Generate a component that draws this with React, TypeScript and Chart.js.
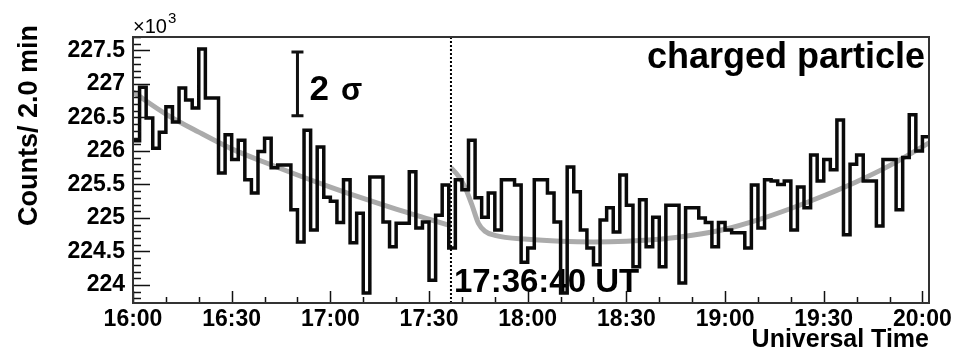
import React, { useEffect, useRef } from "react";
import { Chart, registerables } from "chart.js";

Chart.register(...registerables);

const START_HOUR = 16;
const BIN_MINUTES = 2;

// Charged-particle counts per 2-minute bin (units of 10^3), from 16:00 UT
const COUNTS = [
  226.15, 226.95, 226.49, 226.04, 226.28, 226.66, 226.43, 226.94, 226.76, 226.64,
  227.52, 226.79, 226.79, 225.67, 226.24, 225.87, 226.16, 225.57, 225.37, 225.99,
  226.19, 225.75, 225.79, 225.79, 225.12, 224.64, 226.31, 224.82, 226.06, 225.31,
  225.25, 224.93, 225.57, 224.63, 225.07, 223.88, 225.61, 225.61, 224.94, 224.57,
  224.92, 224.92, 225.69, 224.85, 224.94, 224.07, 225.04, 225.49, 224.55, 225.57,
  225.42, 226.16, 225.3, 225.01, 225.37, 224.82, 225.57, 225.57, 225.49, 224.34,
  224.55, 225.57, 225.57, 225.37, 224.94, 223.88, 225.76, 225.39, 224.82, 224.55,
  224.3, 224.97, 225.15, 224.79, 225.64, 225.19, 224.27, 225.27, 224.57, 225.01,
  224.27, 225.19, 225.19, 224.03, 225.15, 225.15, 225.0, 224.93, 224.57, 224.93,
  224.82, 224.78, 224.78, 224.55, 225.49, 224.85, 225.57, 225.55, 225.5, 225.55,
  224.82, 225.46, 225.15, 225.94, 225.55, 225.87, 225.72, 226.46, 224.75, 225.8,
  225.94, 225.55, 225.55, 224.88, 225.87, 225.87, 225.12, 225.9, 226.54, 226.0,
  226.21,
];

// Smooth trend before the event (minutes after 16:00, counts ×10^3)
const TREND_PRE_MINUTES = [0, 10, 20, 30, 40, 50, 60, 70, 80, 90, 96.67];
const TREND_PRE_COUNTS = [226.88, 226.55, 226.28, 226.03, 225.83, 225.64, 225.46, 225.29, 225.13, 224.98, 224.88];

// Smooth trend after the event
const TREND_POST_MINUTES = [96.67, 99, 101, 103, 105, 107, 110, 120, 130, 140, 150, 160, 170, 180, 190, 200, 210, 220, 230, 242];
const TREND_POST_COUNTS = [225.75, 225.62, 225.45, 225.2, 224.92, 224.8, 224.74, 224.68, 224.65, 224.64, 224.65, 224.68, 224.74, 224.83, 224.97, 225.14, 225.33, 225.54, 225.78, 226.12];

const EVENT_MINUTES = 96 + 40 / 60; // 17:36:40 UT
const EVENT_LABEL = "17:36:40 UT";
const PANEL_LABEL = "charged particle";

// reference bar of ±1 sigma around a typical count level
const SIGMA_REF_MINUTES = 50;
const SIGMA_REF_LEVEL = 227.0;

const Y_TICKS = [224, 224.5, 225, 225.5, 226, 226.5, 227, 227.5];
const X_TICKS = [0, 30, 60, 90, 120, 150, 180, 210, 240];
const Y_MIN = 223.73;
const Y_MAX = 227.7;
const X_MAX = 242;

const FONT = '"Liberation Sans", Arial, sans-serif';

function timeLabel(v: number): string {
  const h = START_HOUR + Math.floor(v / 60);
  const m = Math.round(v % 60);
  return `${h}:${String(m).padStart(2, "0")}`;
}

const decorations = {
  id: "decorations",
  beforeDatasetsDraw(chart: any) {
    const { ctx, chartArea: a, scales } = chart;
    const ex = scales.x.getPixelForValue(EVENT_MINUTES);
    ctx.save();
    ctx.fillStyle = "#000";
    ctx.font = `bold 33px ${FONT}`;
    ctx.textAlign = "left";
    ctx.textBaseline = "alphabetic";
    ctx.fillText(EVENT_LABEL, ex + 3, a.bottom - 11);
    ctx.restore();
  },
  afterDatasetsDraw(chart: any) {
    const { ctx, chartArea: a, scales } = chart;
    const xs = scales.x;
    const ys = scales.y;
    ctx.save();

    // event marker
    const ex = xs.getPixelForValue(EVENT_MINUTES);
    ctx.strokeStyle = "#000";
    ctx.lineWidth = 2;
    ctx.setLineDash([2, 2]);
    ctx.beginPath();
    ctx.moveTo(ex, a.top);
    ctx.lineTo(ex, a.bottom);
    ctx.stroke();
    ctx.setLineDash([]);

    // inward tick marks
    ctx.strokeStyle = "#111";
    ctx.lineWidth = 1.5;
    ctx.beginPath();
    for (let k = Math.ceil(Y_MIN * 10); k <= Math.floor(Y_MAX * 10); k++) {
      const py = Math.round(ys.getPixelForValue(k / 10)) + 0.5;
      const len = k % 5 === 0 ? 17 : 8;
      ctx.moveTo(a.left, py);
      ctx.lineTo(a.left + len, py);
    }
    for (let m = 0; m <= X_MAX; m += 10) {
      const px = Math.round(xs.getPixelForValue(m)) + 0.5;
      const len = m % 30 === 0 ? 12 : 6;
      ctx.moveTo(px, a.bottom);
      ctx.lineTo(px, a.bottom - len);
    }
    ctx.stroke();

    // frame
    ctx.strokeStyle = "#333";
    ctx.lineWidth = 2;
    ctx.strokeRect(a.left, a.top, a.right - a.left, a.bottom - a.top);

    // sigma reference bar
    const sigma = Math.sqrt(SIGMA_REF_LEVEL * 1000) / 1000;
    const bx = xs.getPixelForValue(SIGMA_REF_MINUTES);
    const bTop = ys.getPixelForValue(SIGMA_REF_LEVEL + sigma);
    const bBot = ys.getPixelForValue(SIGMA_REF_LEVEL - sigma);
    ctx.strokeStyle = "#111";
    ctx.lineWidth = 3;
    ctx.beginPath();
    ctx.moveTo(bx, bTop);
    ctx.lineTo(bx, bBot);
    ctx.moveTo(bx - 6, bTop);
    ctx.lineTo(bx + 6, bTop);
    ctx.moveTo(bx - 6, bBot);
    ctx.lineTo(bx + 6, bBot);
    ctx.stroke();

    ctx.fillStyle = "#000";
    ctx.textBaseline = "alphabetic";
    ctx.textAlign = "left";
    ctx.font = `bold 35px ${FONT}`;
    const tx = bx + 12;
    const ty = bBot - 16;
    ctx.fillText("2", tx, ty);
    const w2 = ctx.measureText("2").width;
    ctx.font = `bold 31px ${FONT}`;
    ctx.fillText("σ", tx + w2 + 12, ty);

    // panel label
    ctx.font = `bold 36px ${FONT}`;
    ctx.textAlign = "right";
    ctx.fillText(PANEL_LABEL, a.right - 4, a.top + 31);

    // axis multiplier
    ctx.textAlign = "left";
    ctx.font = `20px ${FONT}`;
    ctx.fillText("×10", a.left, a.top - 4);
    const wm = ctx.measureText("×10").width;
    ctx.font = `15px ${FONT}`;
    ctx.fillText("3", a.left + wm + 1, a.top - 14);

    // axis titles
    ctx.font = `bold 25px ${FONT}`;
    ctx.textAlign = "right";
    ctx.fillText("Universal Time", a.right, 347);

    ctx.save();
    ctx.translate(37, a.top - 12);
    ctx.rotate(-Math.PI / 2);
    ctx.font = `bold 27px ${FONT}`;
    ctx.textAlign = "right";
    ctx.fillText("Counts/ 2.0 min", 0, 0);
    ctx.restore();

    ctx.restore();
  },
};

export default function App() {
  const canvasRef = useRef<HTMLCanvasElement | null>(null);

  useEffect(() => {
    const canvas = canvasRef.current;
    if (!canvas) return;

    const hist = COUNTS.map((v, i) => ({ x: i * BIN_MINUTES, y: v }));
    hist.push({ x: COUNTS.length * BIN_MINUTES, y: COUNTS[COUNTS.length - 1] });
    const pre = TREND_PRE_MINUTES.map((t, i) => ({ x: t, y: TREND_PRE_COUNTS[i] }));
    const post = TREND_POST_MINUTES.map((t, i) => ({ x: t, y: TREND_POST_COUNTS[i] }));

    const chart = new Chart(canvas, {
      type: "line",
      data: {
        datasets: [
          {
            data: hist,
            stepped: "before",
            borderColor: "#0a0a0a",
            borderWidth: 3.5,
            pointRadius: 0,
            fill: false,
            order: 0,
          },
          {
            data: pre,
            borderColor: "#ababab",
            borderWidth: 5,
            pointRadius: 0,
            cubicInterpolationMode: "monotone",
            fill: false,
            order: 1,
          },
          {
            data: post,
            borderColor: "#ababab",
            borderWidth: 5,
            pointRadius: 0,
            cubicInterpolationMode: "monotone",
            fill: false,
            order: 1,
          },
        ],
      } as any,
      options: {
        animation: false,
        responsive: false,
        devicePixelRatio: 1,
        layout: { padding: { left: 0, top: 37, right: 42, bottom: 0 } },
        plugins: { legend: { display: false }, tooltip: { enabled: false } },
        scales: {
          x: {
            type: "linear",
            min: 0,
            max: X_MAX,
            grid: { display: false, drawTicks: false },
            border: { display: false },
            afterBuildTicks: (s: any) => {
              s.ticks = X_TICKS.map((v) => ({ value: v }));
            },
            afterFit: (s: any) => {
              s.height = 51;
              s.paddingLeft = 0;
              s.paddingRight = 0;
            },
            ticks: {
              autoSkip: false,
              maxRotation: 0,
              padding: 3,
              color: "#000",
              font: { family: FONT, size: 23, weight: "bold" },
              callback: (v: any) => timeLabel(Number(v)),
            },
          },
          y: {
            type: "linear",
            min: Y_MIN,
            max: Y_MAX,
            grid: { display: false, drawTicks: false },
            border: { display: false },
            afterBuildTicks: (s: any) => {
              s.ticks = Y_TICKS.map((v) => ({ value: v }));
            },
            afterFit: (s: any) => {
              s.width = 133;
              s.paddingTop = 0;
              s.paddingBottom = 0;
            },
            ticks: {
              autoSkip: false,
              padding: 8,
              color: "#000",
              font: { family: FONT, size: 23, weight: "bold" },
              callback: (v: any) => String(Number(v)),
            },
          },
        },
      },
      plugins: [decorations],
    } as any);

    return () => chart.destroy();
  }, []);

  return (
    <div style={{ position: "absolute", left: 0, top: 0, width: 971, height: 354, background: "#fff" }}>
      <canvas ref={canvasRef} width={971} height={354} style={{ display: "block" }} />
    </div>
  );
}
